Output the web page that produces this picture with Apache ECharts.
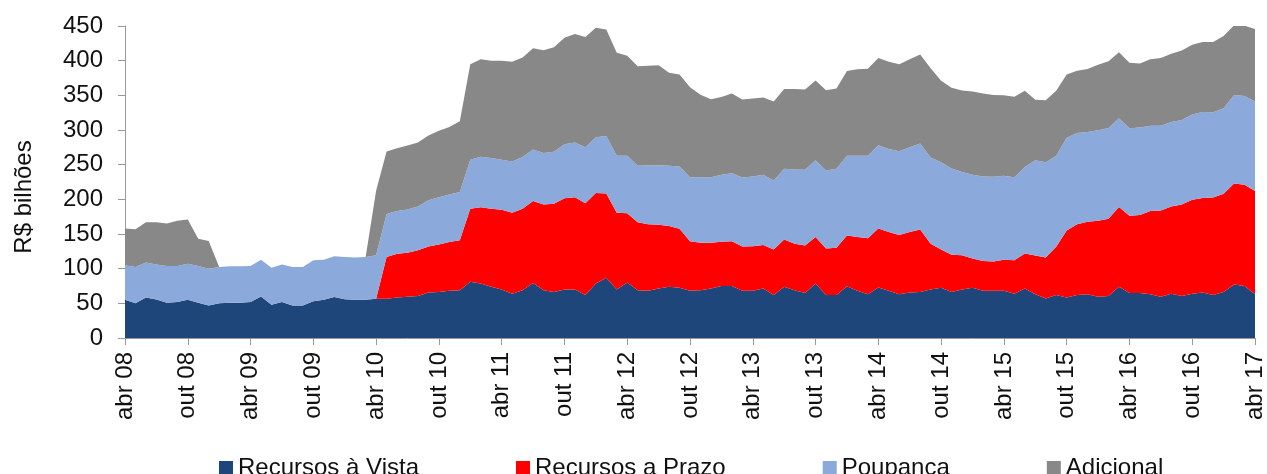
<!DOCTYPE html>
<html>
<head>
    <meta charset="utf-8">
    <script src="https://cdn.jsdelivr.net/npm/echarts@6/dist/echarts.min.js"></script>
    <style>
        body { margin: 0; background: #fff; }
    </style>
</head>

<body>
<div id="main" style="width: 1267px;height:474px;"></div>

<script type="text/javascript">
    // meses (abr 08 ... abr 17), rótulos a cada 6 meses
    var meses = ['jan', 'fev', 'mar', 'abr', 'mai', 'jun', 'jul', 'ago', 'set', 'out', 'nov', 'dez'];
    var categorias = [];
    for (var k = 0; k < 109; k++) {
        var m = (3 + k) % 12;
        var a = 8 + Math.floor((3 + k) / 12);
        categorias.push(meses[m] + ' ' + (a < 10 ? '0' + a : '' + a));
    }

    var yTicks = [0, 50, 100, 150, 200, 250, 300, 350, 400, 450];

    // R$ bilhões
    var recursosVista = [
        55, 50, 58.5, 55.5, 51, 52, 55, 51, 47,
        50, 51, 51, 52, 60, 48, 52, 47, 47, 53, 55, 59, 56, 55, 55,
        56.5, 56.5, 58.5, 59.5, 60.5, 65.5, 66.5, 68, 69,
        81, 78.5, 74, 70, 64, 69, 79.5, 69, 66.5, 70, 70,
        62, 78.5, 87, 70, 80, 69, 68, 71.5, 74, 72.5,
        68, 69, 71.5, 75, 75, 68, 68, 71.5, 62, 74,
        69, 65, 78.5, 62, 62, 74.5, 68, 63, 73, 68,
        63, 65.5, 66.5, 70, 72.5, 66.5, 70, 72.5, 68, 68,
        68, 64, 71.5, 63, 57, 62, 58.5, 62, 63, 59.5,
        60.5, 74, 65, 65, 63, 59.5, 64, 60.5, 64, 65.5,
        62, 66.5, 77, 75, 63
    ];
    var recursosPrazo = [
        0, 0, 0, 0, 0, 0, 0, 0, 0,
        0, 0, 0, 0, 0, 0, 0, 0, 0, 0, 0, 0, 0, 0, 0,
        0, 60.5, 63, 63.5, 66, 66.5, 68.5, 70.5, 72,
        105.5, 110, 112.5, 115, 116.5, 117.5, 118, 123.5, 127, 131.5, 133,
        132.5, 130.5, 121.5, 110.5, 100, 98, 96, 92, 87.5, 85,
        71.5, 68.5, 66, 64, 64.5, 64, 64.5, 62.5, 65.5, 68,
        67, 68.5, 67, 67, 68, 73.5, 77.5, 81, 85, 85,
        85.5, 87.5, 90, 66, 55, 53.5, 49.5, 42, 43, 42.5,
        45, 48, 50.5, 56, 59, 69.5, 96.5, 102, 104.5, 109.5,
        111.5, 115, 111.5, 112.5, 120, 124.5, 125.5, 132, 135.5, 136.5,
        140.5, 141.5, 146, 146, 149
    ];
    var poupanca = [
        50, 52.5, 50.5, 50.5, 53, 52, 52, 53, 53,
        52.5, 52.5, 52.5, 52, 53, 53.5, 54, 55.5, 55.5, 59, 58, 59, 61, 61, 62,
        63, 62, 61.5, 62.5, 63, 66.5, 68, 68.5, 69.5,
        70.5, 73, 73, 72, 74, 74.5, 74.5, 74.5, 75, 78, 79,
        80.5, 80.5, 83, 82.5, 83, 81.5, 85, 85.5, 87, 90,
        92.5, 94.5, 94.5, 96.5, 98, 99.5, 100.5, 101.5, 99.5, 102,
        107, 109, 111, 112.5, 114, 115, 117.5, 119, 120, 119.5,
        121, 122, 124, 124.5, 126, 124.5, 120, 121, 122, 122,
        121, 120, 124.5, 137.5, 137.5, 131.5, 134, 131.5, 129.5, 130.5,
        131, 128, 126, 126, 123, 122, 122, 122, 123, 124,
        123, 123.5, 127.5, 128, 129
    ];
    var adicional = [
        53, 54.5, 58, 61, 61, 65, 64, 39, 40,
        0, 0, 0, 0, 0, 0, 0, 0, 0, 0, 0, 0, 0, 0, 0,
        93, 90, 90.5, 92, 92.5, 93.5, 96, 97.5, 102,
        138, 140.5, 140.5, 143, 144, 143.5, 146, 148, 151, 153.5, 156.5,
        159, 158, 153.5, 148.5, 144, 143.5, 143.5, 144.5, 134, 132.5,
        129.5, 119, 112.5, 112, 115, 112.5, 112.5, 111.5, 114, 115,
        116, 116, 115, 116, 116, 122, 124.5, 125.5, 126, 126,
        125.5, 127, 128.5, 128.5, 117.5, 116.5, 117.5, 120, 119.5, 118,
        116, 116, 110, 87, 89.5, 93.5, 91, 90, 91, 94.5,
        96, 95, 94.5, 92.5, 96, 98, 98.5, 100, 100.5, 101,
        101.5, 104, 100.5, 101.5, 104.5
    ];

    var nomes = ['Recursos à Vista', 'Recursos a Prazo', 'Poupança', 'Adicional'];
    var cores = ['#1f467b', '#ff0000', '#8ca9db', '#888888'];

    var fonte = '"Liberation Sans", Arial, sans-serif';

    function serie(nome, dados, cor) {
        return {
            name: nome,
            type: 'line',
            stack: 'total',
            data: dados,
            symbol: 'none',
            lineStyle: { width: 0 },
            areaStyle: { color: cor, opacity: 1 },
            itemStyle: { color: cor },
            emphasis: { disabled: true }
        };
    }

    var myChart = echarts.init(document.getElementById('main'));

    myChart.setOption({
        animation: false,
        backgroundColor: '#fff',
        grid: { left: 125, right: 11, top: 26, bottom: 136 },
        legend: {
            data: nomes,
            left: 214,
            top: 451,
            icon: 'rect',
            itemWidth: 14,
            itemHeight: 14,
            itemGap: 97,
            textStyle: { fontFamily: fonte, fontSize: 24, color: '#111' }
        },
        graphic: [{
            type: 'text',
            x: 24,
            y: 197,
            rotation: Math.PI / 2,
            style: {
                text: 'R$ bilhões',
                font: '24px ' + fonte,
                fill: '#111',
                textAlign: 'center',
                textVerticalAlign: 'middle'
            }
        }],
        xAxis: {
            type: 'category',
            data: categorias,
            boundaryGap: false,
            axisLine: { lineStyle: { color: '#999' } },
            axisTick: { interval: 5, length: 7, lineStyle: { color: '#999' } },
            axisLabel: {
                interval: 5,
                rotate: 90,
                margin: 14,
                fontFamily: fonte,
                fontSize: 24,
                color: '#111'
            },
            splitLine: { show: false }
        },
        yAxis: {
            type: 'value',
            min: yTicks[0],
            max: yTicks[yTicks.length - 1],
            interval: 50,
            axisLine: { show: true, lineStyle: { color: '#999' } },
            axisTick: { show: true, length: 7, lineStyle: { color: '#999' } },
            axisLabel: { margin: 22, fontFamily: fonte, fontSize: 24, color: '#111' },
            splitLine: { show: false }
        },
        series: [
            serie(nomes[0], recursosVista, cores[0]),
            serie(nomes[1], recursosPrazo, cores[1]),
            serie(nomes[2], poupanca, cores[2]),
            serie(nomes[3], adicional, cores[3])
        ]
    });
</script>

</body>

</html>
